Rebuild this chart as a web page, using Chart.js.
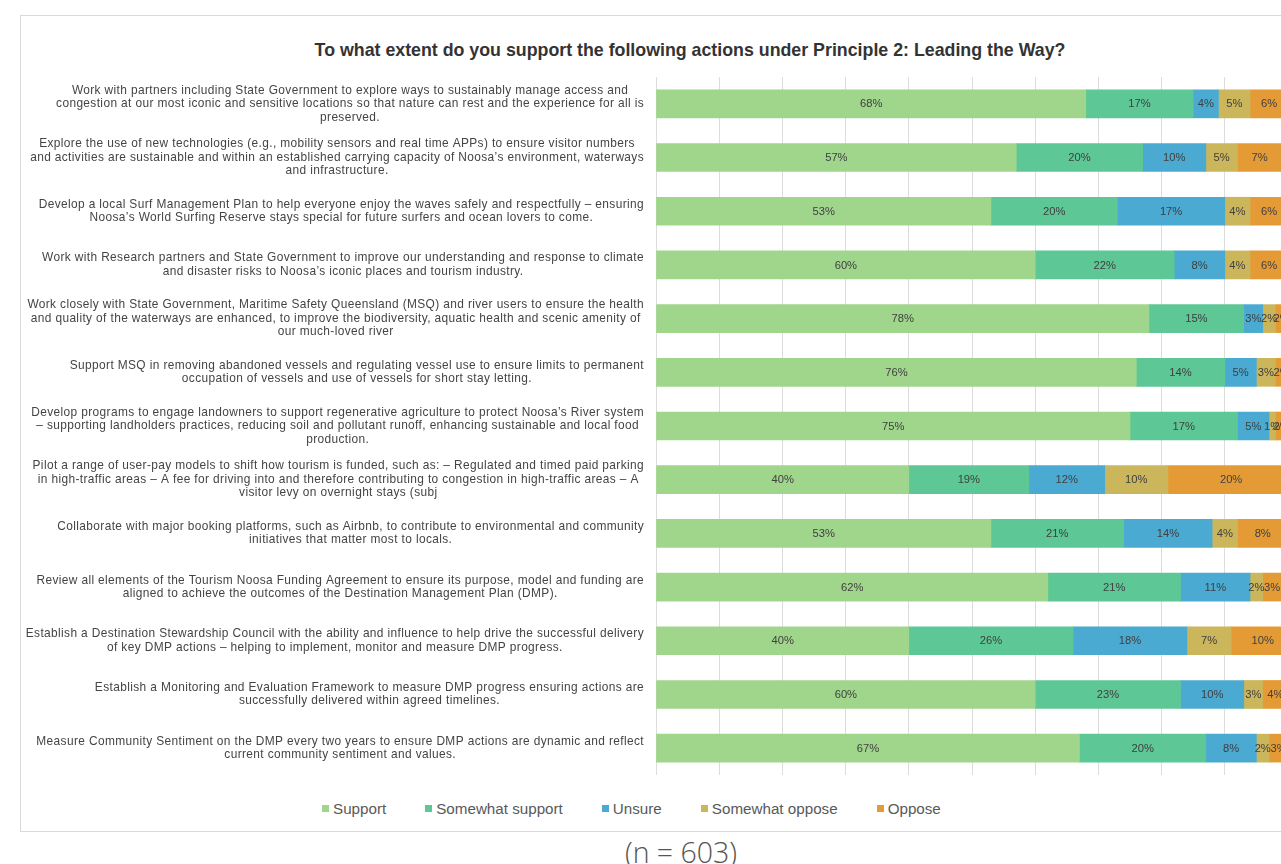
<!DOCTYPE html>
<html>
<head>
<meta charset="utf-8">
<script src="https://cdn.jsdelivr.net/npm/chart.js@4"></script>
<style>
  html, body { margin:0; padding:0; background:#fff; overflow:hidden; width:1281px; height:864px; }
  #box { position:absolute; left:20px; top:15px; width:1340px; height:817px; border:1px solid #d9d9d9; box-sizing:border-box; }
  #title { position:absolute; left:20px; width:1340px; top:40px; line-height:22px; text-align:center; font:bold 17.8px "Liberation Sans", Arial, sans-serif; color:#333; }
  #chartWrap { position:absolute; left:21px; top:77px; width:1338px; height:698px; }
  #legend { position:absolute; left:322px; top:797px; height:22px; display:flex; align-items:center; font:15.2px "Liberation Sans", Arial, sans-serif; color:#595959; white-space:nowrap; }
  #legend .item { display:flex; align-items:center; margin-right:39px; }
  #legend .sw { width:7px; height:7px; margin-right:4px; margin-top:1px; }
  #note { position:absolute; left:0; width:1362px; top:834px; text-align:center; font:300 28.5px "Open Sans", sans-serif; color:#555; line-height:36px; }
</style>
</head>
<body>
<div id="box"></div>
<div id="title">To what extent do you support the following actions under Principle 2: Leading the Way?</div>
<div id="chartWrap"><canvas id="c" width="1338" height="698"></canvas></div>
<div id="legend"></div>
<div id="note">(n = 603)</div>
<script>
const categories = [
  ["Work with partners including State Government to explore ways to sustainably manage access and", "congestion at our most iconic and sensitive locations so that nature can rest and the experience for all is", "preserved."],
  ["Explore the use of new technologies (e.g., mobility sensors and real time APPs) to ensure visitor numbers", "and activities are sustainable and within an established carrying capacity of Noosa’s environment, waterways", "and infrastructure."],
  ["Develop a local Surf Management Plan to help everyone enjoy the waves safely and respectfully – ensuring", "Noosa’s World Surfing Reserve stays special for future surfers and ocean lovers to come."],
  ["Work with Research partners and State Government to improve our understanding and response to climate", "and disaster risks to Noosa’s iconic places and tourism industry."],
  ["Work closely with State Government, Maritime Safety Queensland (MSQ) and river users to ensure the health", "and quality of the waterways are enhanced, to improve the biodiversity, aquatic health and scenic amenity of", "our much-loved river"],
  ["Support MSQ in removing abandoned vessels and regulating vessel use to ensure limits to permanent", "occupation of vessels and use of vessels for short stay letting."],
  ["Develop programs to engage landowners to support regenerative agriculture to protect Noosa’s River system", "– supporting landholders practices, reducing soil and pollutant runoff, enhancing sustainable and local food", "production."],
  ["Pilot a range of user-pay models to shift how tourism is funded, such as: – Regulated and timed paid parking", "in high-traffic areas – A fee for driving into and therefore contributing to congestion in high-traffic areas – A", "visitor levy on overnight stays (subj"],
  ["Collaborate with major booking platforms, such as Airbnb, to contribute to environmental and community", "initiatives that matter most to locals."],
  ["Review all elements of the Tourism Noosa Funding Agreement to ensure its purpose, model and funding are", "aligned to achieve the outcomes of the Destination Management Plan (DMP)."],
  ["Establish a Destination Stewardship Council with the ability and influence to help drive the successful delivery", "of key DMP actions – helping to implement, monitor and measure DMP progress."],
  ["Establish a Monitoring and Evaluation Framework to measure DMP progress ensuring actions are", "successfully delivered within agreed timelines."],
  ["Measure Community Sentiment on the DMP every two years to ensure DMP actions are dynamic and reflect", "current community sentiment and values."]
];
const support         = [68, 57, 53, 60, 78, 76, 75, 40, 53, 62, 40, 60, 67];
const somewhatSupport = [17, 20, 20, 22, 15, 14, 17, 19, 21, 21, 26, 23, 20];
const unsure          = [ 4, 10, 17,  8,  3,  5,  5, 12, 14, 11, 18, 10,  8];
const somewhatOppose  = [ 5,  5,  4,  4,  2,  3,  1, 10,  4,  2,  7,  3,  2];
const oppose          = [ 6,  7,  6,  6,  2,  2,  2, 20,  8,  3, 10,  4,  3];
const seriesNames  = ["Support", "Somewhat support", "Unsure", "Somewhat oppose", "Oppose"];
const seriesColors = ["#a0d68b", "#5dc796", "#4aaad2", "#ccb65b", "#e49b36"];
const seriesValues = [support, somewhatSupport, unsure, somewhatOppose, oppose];

const FONT = '"Liberation Sans", Arial, sans-serif';

// legend (HTML)
const lg = document.getElementById('legend');
seriesNames.forEach((n, i) => {
  const it = document.createElement('div'); it.className = 'item';
  const sw = document.createElement('span'); sw.className = 'sw'; sw.style.background = seriesColors[i];
  const tx = document.createElement('span'); tx.textContent = n;
  it.appendChild(sw); it.appendChild(tx); lg.appendChild(it);
});

const yLabelPlugin = {
  id: 'yLabels',
  afterDraw(chart) {
    const ctx = chart.ctx;
    const ys = chart.scales.y;
    const right = chart.chartArea.left - 12;
    const lh = 13.5;
    ctx.save();
    ctx.font = '11.9px ' + FONT;
    if ('letterSpacing' in ctx) ctx.letterSpacing = '0.38px';
    ctx.fillStyle = '#444';
    ctx.textAlign = 'center';
    ctx.textBaseline = 'middle';
    chart.data.labels.forEach((lines, i) => {
      const y = ys.getPixelForTick(i);
      const w = Math.max(...lines.map(l => ctx.measureText(l).width));
      const cx = right - w / 2;
      lines.forEach((l, j) => {
        ctx.fillText(l, cx, y + (j - (lines.length - 1) / 2) * lh);
      });
    });
    ctx.restore();
  }
};

const valueLabelPlugin = {
  id: 'valueLabels',
  afterDatasetsDraw(chart) {
    const ctx = chart.ctx;
    ctx.save();
    ctx.font = '11.2px ' + FONT;
    ctx.fillStyle = '#404040';
    ctx.textAlign = 'center';
    ctx.textBaseline = 'middle';
    chart.data.datasets.forEach((ds, di) => {
      const meta = chart.getDatasetMeta(di);
      meta.data.forEach((el, i) => {
        const p = el.getCenterPoint();
        ctx.fillText(ds.data[i] + '%', p.x, p.y + 0.5);
      });
    });
    ctx.restore();
  }
};

new Chart(document.getElementById('c'), {
  type: 'bar',
  data: {
    labels: categories,
    datasets: seriesNames.map((n, i) => ({
      label: n,
      data: seriesValues[i],
      backgroundColor: seriesColors[i],
      borderWidth: 0,
      barThickness: 28
    }))
  },
  options: {
    indexAxis: 'y',
    responsive: false,
    animation: false,
    devicePixelRatio: 1,
    layout: { padding: { left: 0, right: 71, top: 0, bottom: 0 } },
    plugins: { legend: { display: false }, title: { display: false }, tooltip: { enabled: false } },
    scales: {
      x: {
        stacked: true, min: 0, max: 100,
        ticks: { display: false, stepSize: 10 },
        grid: { color: '#dcdcdc', drawTicks: false, lineWidth: 1 },
        border: { display: false }
      },
      y: {
        stacked: true,
        ticks: { display: false },
        grid: { display: false, drawTicks: false },
        border: { display: false },
        afterFit: (s) => { s.width = 635; }
      }
    }
  },
  plugins: [yLabelPlugin, valueLabelPlugin]
});
</script>
</body>
</html>
